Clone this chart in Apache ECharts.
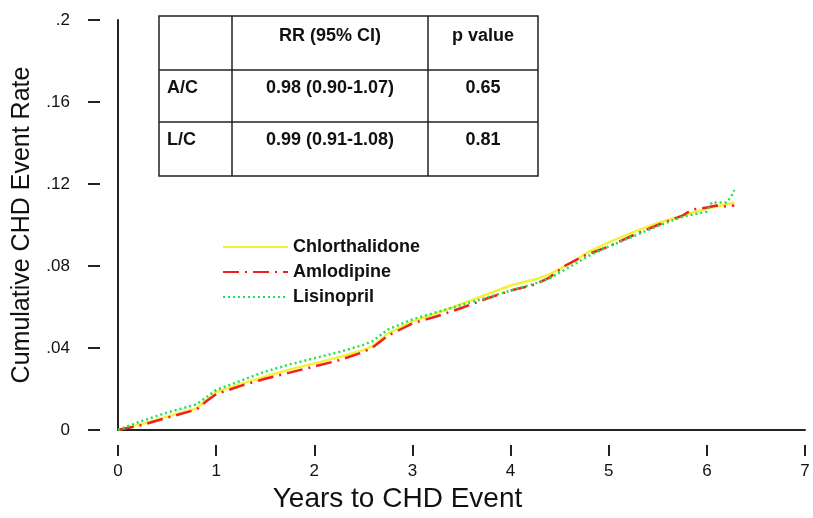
<!DOCTYPE html>
<html>
<head>
<meta charset="utf-8">
<script src="https://cdn.jsdelivr.net/npm/echarts@6/dist/echarts.min.js"></script>
<style>
  html, body { margin: 0; padding: 0; background: #fff; }
  #chart { width: 813px; height: 518px; }
</style>
</head>
<body>
<div id="chart"></div>
<script>
// years, cumulative rate
const chlorthalidone = [
  [0, 0], [0.25, 0.003], [0.5, 0.0065], [0.8, 0.0105], [0.9, 0.0145], [1.0, 0.0185],
  [1.25, 0.0225], [1.5, 0.026], [1.75, 0.0295], [2.0, 0.0325], [2.25, 0.0355], [2.5, 0.039],
  [2.6, 0.041], [2.75, 0.047], [3.0, 0.053], [3.25, 0.057], [3.5, 0.0615], [3.75, 0.066],
  [4.0, 0.0705], [4.25, 0.0735], [4.4, 0.076], [4.6, 0.081], [4.8, 0.087], [5.0, 0.0915],
  [5.25, 0.0965], [5.5, 0.101], [5.75, 0.1045], [6.0, 0.108], [6.15, 0.1095], [6.28, 0.111]
];
const amlodipine = [
  [0, 0], [0.25, 0.0025], [0.5, 0.006], [0.8, 0.01], [0.9, 0.014], [1.0, 0.0175],
  [1.25, 0.0215], [1.5, 0.025], [1.75, 0.028], [2.0, 0.031], [2.25, 0.034], [2.5, 0.038],
  [2.6, 0.0405], [2.75, 0.046], [3.0, 0.052], [3.25, 0.0555], [3.5, 0.0595], [3.75, 0.064],
  [4.0, 0.068], [4.25, 0.071], [4.4, 0.0745], [4.55, 0.08], [4.75, 0.085], [5.0, 0.0895],
  [5.25, 0.095], [5.5, 0.1], [5.75, 0.1045], [5.85, 0.1075], [6.0, 0.1085], [6.1, 0.1095],
  [6.2, 0.109], [6.28, 0.1095]
];
const lisinopril = [
  [0, 0], [0.25, 0.0045], [0.5, 0.0085], [0.8, 0.0125], [0.9, 0.016], [1.0, 0.0195],
  [1.25, 0.024], [1.5, 0.0285], [1.75, 0.032], [2.0, 0.035], [2.25, 0.038], [2.5, 0.0415],
  [2.6, 0.0435], [2.75, 0.049], [3.0, 0.054], [3.25, 0.0575], [3.5, 0.061], [3.75, 0.0645],
  [4.0, 0.068], [4.25, 0.0715], [4.4, 0.074], [4.6, 0.0795], [4.8, 0.085], [5.0, 0.0895],
  [5.25, 0.0945], [5.5, 0.0995], [5.75, 0.104], [6.0, 0.1065], [6.05, 0.111], [6.2, 0.111],
  [6.25, 0.114], [6.28, 0.117]
];
const yTickLabels = ['0', '.04', '.08', '.12', '.16', '.2'];
const tableHeader = ['', 'RR (95% CI)', 'p value'];
const tableRows = [
  ['A/C', '0.98 (0.90-1.07)', '0.65'],
  ['L/C', '0.99 (0.91-1.08)', '0.81']
];

const font = 'Liberation Sans, Arial, sans-serif';
const chart = echarts.init(document.getElementById('chart'));

// table drawn as graphic
const colX = [159, 232, 428, 538];
const rowY = [16, 70, 122, 176];
const tableEls = [];
tableEls.push({
  type: 'rect', shape: { x: colX[0], y: rowY[0], width: colX[3] - colX[0], height: rowY[3] - rowY[0] },
  style: { fill: '#fff', stroke: '#222', lineWidth: 1.5 }, z: 10
});
[colX[1], colX[2]].forEach(x => tableEls.push({
  type: 'line', shape: { x1: x, y1: rowY[0], x2: x, y2: rowY[3] },
  style: { stroke: '#222', lineWidth: 1.5 }, z: 11
}));
[rowY[1], rowY[2]].forEach(y => tableEls.push({
  type: 'line', shape: { x1: colX[0], y1: y, x2: colX[3], y2: y },
  style: { stroke: '#222', lineWidth: 1.5 }, z: 11
}));
[tableHeader].concat(tableRows).forEach((row, r) => {
  const cy = rowY[r] + (r === 0 ? 20 : 18);
  row.forEach((txt, c) => {
    if (!txt) return;
    const left = c === 0;
    tableEls.push({
      type: 'text', z: 12,
      x: left ? colX[0] + 8 : (colX[c] + colX[c + 1]) / 2, y: cy,
      style: {
        text: txt, fill: '#111', font: 'bold 18px ' + font,
        textAlign: left ? 'left' : 'center', textVerticalAlign: 'middle'
      }
    });
  });
});

chart.setOption({
  animation: false,
  backgroundColor: '#fff',
  grid: { left: 118, right: 8, top: 20, bottom: 88 },
  legend: {
    orient: 'vertical', left: 217, top: 233, itemWidth: 65, itemHeight: 12, itemGap: 7,
    itemStyle: { opacity: 0 },
    textStyle: { fontFamily: font, fontWeight: 'bold', fontSize: 18, color: '#111' },
    data: ['Chlorthalidone', 'Amlodipine', 'Lisinopril']
  },
  xAxis: [
    {
      type: 'value', min: 0, max: 7, interval: 1,
      axisLine: { show: true, onZero: false, lineStyle: { color: '#222', width: 2 } },
      axisTick: { show: false }, axisLabel: { show: false }, splitLine: { show: false },
      name: 'Years to CHD Event', nameLocation: 'middle', nameGap: 55,
      nameTextStyle: { fontFamily: font, fontSize: 28, color: '#111', padding: [0, 128, 0, 0] }
    },
    {
      type: 'value', min: 0, max: 7, interval: 1, position: 'bottom', offset: 15,
      axisLine: { show: false, onZero: false }, splitLine: { show: false },
      axisTick: { show: true, length: 11, lineStyle: { color: '#222', width: 2 } },
      axisLabel: { margin: 18, fontFamily: font, fontSize: 17, color: '#111' }
    }
  ],
  yAxis: [
    {
      type: 'value', min: 0, max: 0.2, interval: 0.04,
      axisLine: { show: true, onZero: false, lineStyle: { color: '#222', width: 2 } },
      axisTick: { show: false }, axisLabel: { show: false }, splitLine: { show: false },
      name: 'Cumulative CHD Event Rate', nameLocation: 'middle', nameGap: 83,
      nameTextStyle: { fontFamily: font, fontSize: 25, color: '#111' }
    },
    {
      type: 'value', min: 0, max: 0.2, interval: 0.04, position: 'left', offset: 18,
      axisLine: { show: false, onZero: false }, splitLine: { show: false },
      axisTick: { show: true, length: 12, lineStyle: { color: '#222', width: 2 } },
      axisLabel: {
        margin: 30, fontFamily: font, fontSize: 17, color: '#111',
        formatter: v => yTickLabels[Math.round(v / 0.04)]
      }
    }
  ],
  series: [
    {
      name: 'Chlorthalidone', type: 'line', data: chlorthalidone, symbol: 'none',
      lineStyle: { color: '#f5f03a', width: 2.5 }, itemStyle: { color: '#f5f03a' }, z: 3
    },
    {
      name: 'Amlodipine', type: 'line', data: amlodipine, symbol: 'none',
      lineStyle: { color: '#f02020', width: 2.5, type: [16, 6, 2, 6] }, itemStyle: { color: '#f02020' }, z: 4
    },
    {
      name: 'Lisinopril', type: 'line', data: lisinopril, symbol: 'none',
      lineStyle: { color: '#22e050', width: 2.5, type: [2, 3] }, itemStyle: { color: '#22e050' }, z: 5
    }
  ],
  graphic: tableEls
});
</script>
</body>
</html>
